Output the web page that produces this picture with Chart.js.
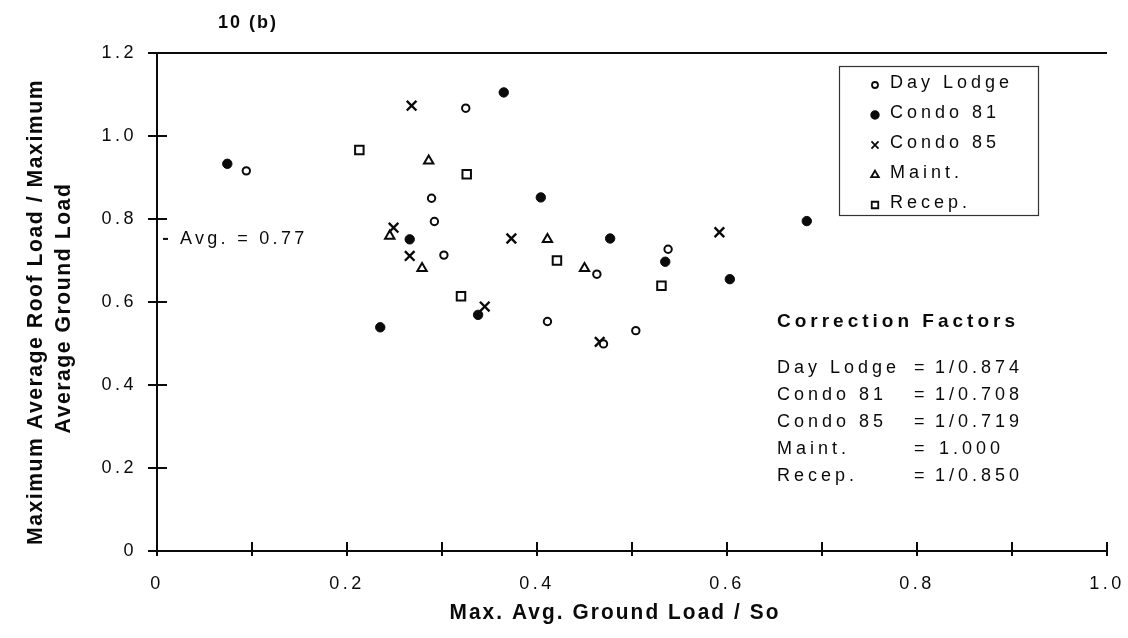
<!DOCTYPE html>
<html><head><meta charset="utf-8">
<script src="https://cdn.jsdelivr.net/npm/chart.js@4.4.0/dist/chart.umd.min.js"></script>
<style>html,body{margin:0;padding:0;background:#fff;}#wrap{width:1128px;height:638px;}</style>
</head><body><div id="wrap"><canvas id="c" width="1128" height="638"></canvas></div>
<script>
// ---- data ----
const seriesNames = ['Day Lodge', 'Condo 81', 'Condo 85', 'Maint.', 'Recep.'];
const dayLodgeX = [0.094, 0.325, 0.289, 0.292, 0.302, 0.538, 0.463, 0.411, 0.504, 0.470];
const dayLodgeY = [0.916, 1.067, 0.850, 0.794, 0.713, 0.727, 0.667, 0.553, 0.531, 0.499];
const condo81X = [0.074, 0.365, 0.404, 0.266, 0.477, 0.535, 0.603, 0.684, 0.338, 0.235];
const condo81Y = [0.933, 1.105, 0.852, 0.751, 0.753, 0.697, 0.655, 0.795, 0.569, 0.539];
const condo85X = [0.268, 0.249, 0.266, 0.373, 0.592, 0.345, 0.466];
const condo85Y = [1.073, 0.779, 0.711, 0.753, 0.768, 0.589, 0.504];
const maintX = [0.286, 0.245, 0.279, 0.411, 0.450];
const maintY = [0.940, 0.759, 0.681, 0.751, 0.681];
const recepX = [0.213, 0.326, 0.320, 0.421, 0.531];
const recepY = [0.966, 0.908, 0.614, 0.700, 0.639];
const corrNames = ['Day Lodge', 'Condo 81', 'Condo 85', 'Maint.', 'Recep.'];
const corrValues = ['1/0.874', '1/0.708', '1/0.719', '1.000', '1/0.850'];
const avgText = 'Avg. = 0.77';
const avgMarkY = 0.752;
const chartTitle = '10 (b)';
const xTitle = 'Max. Avg. Ground Load / So';
const yTitleLines = ['Maximum Average Roof Load / Maximum', 'Average Ground Load'];
const corrTitle = 'Correction Factors';

// ---- styling ----
const INK = '#0a0a0a';
const REG = "'Liberation Sans', Arial, sans-serif";
const styles = [
  { pointStyle: 'circle', radius: 3.7, bg: '#fff', bw: 2 },
  { pointStyle: 'circle', radius: 4.7, bg: INK, bw: 1 },
  { pointStyle: 'crossRot', radius: 6.8, bg: INK, bw: 2.4 },
  { pointStyle: 'triangle', radius: 5.4, bg: '#fff', bw: 2 },
  { pointStyle: 'rect', radius: 6, bg: '#fff', bw: 2 }
];
const xs = [dayLodgeX, condo81X, condo85X, maintX, recepX];
const ys = [dayLodgeY, condo81Y, condo85Y, maintY, recepY];

const datasets = seriesNames.map((name, i) => ({
  label: name,
  data: xs[i].map((x, j) => ({ x: x, y: ys[i][j] })),
  pointStyle: styles[i].pointStyle,
  pointRadius: styles[i].radius,
  pointHoverRadius: styles[i].radius,
  pointBackgroundColor: styles[i].bg,
  pointBorderColor: INK,
  pointBorderWidth: styles[i].bw,
  showLine: false
}));

function txt(ctx, s, x, y, font, align, spacing) {
  ctx.save();
  ctx.font = font;
  ctx.letterSpacing = spacing + 'px';
  ctx.textAlign = align;
  ctx.textBaseline = 'middle';
  ctx.fillStyle = INK;
  ctx.fillText(s, x, y);
  ctx.restore();
}
// draw text centred at (cx,cy), horizontally compressed by factor k
function condensed(ctx, s, cx, cy, font, spacing, k) {
  ctx.save();
  ctx.translate(cx, cy);
  ctx.scale(k, 1);
  txt(ctx, s, 0, 0, font, 'center', spacing);
  ctx.restore();
}
function measure(ctx, s, font, spacing) {
  ctx.save(); ctx.font = font; ctx.letterSpacing = spacing + 'px';
  const w = ctx.measureText(s).width; ctx.restore(); return w;
}

const spacingPlugin = {
  id: 'spacing',
  beforeUpdate(c) { c.ctx.letterSpacing = '3.5px'; },
  beforeLayout(c) { c.ctx.letterSpacing = '3.5px'; },
  beforeDraw(c) { c.ctx.letterSpacing = '3.5px'; }
};

const decor = {
  id: 'decor',
  afterDraw(chart) {
    const ctx = chart.ctx;
    const a = chart.chartArea;
    const sx = chart.scales.x, sy = chart.scales.y;
    ctx.save();
    ctx.strokeStyle = INK;
    ctx.lineWidth = 2;
    ctx.beginPath(); ctx.moveTo(a.left, a.top); ctx.lineTo(a.right, a.top); ctx.stroke();
    sy.ticks.forEach(t => {
      const p = sy.getPixelForValue(t.value);
      ctx.beginPath(); ctx.moveTo(a.left - 9, p); ctx.lineTo(a.left + 10, p); ctx.stroke();
    });
    sx.ticks.forEach(t => {
      const p = sx.getPixelForValue(t.value);
      ctx.beginPath(); ctx.moveTo(p, a.bottom - 9); ctx.lineTo(p, a.bottom + 5); ctx.stroke();
    });
    const ay = sy.getPixelForValue(avgMarkY);
    ctx.beginPath(); ctx.moveTo(a.left + 6, ay); ctx.lineTo(a.left + 11, ay); ctx.stroke();
    ctx.restore();
    txt(ctx, avgText, a.left + 23, ay, '18px ' + REG, 'left', 3.3);

    // chart title
    txt(ctx, chartTitle, 248, 23, 'bold 18px ' + REG, 'center', 2);

    // axis titles: bold, condensed
    const tf = 'bold 22px ' + REG;
    const xw = measure(ctx, xTitle, tf, 2.2);
    condensed(ctx, xTitle, 615, 613, tf, 2.2, 331 / xw);
    const yw = measure(ctx, yTitleLines[0], tf, 1.6);
    const ky = 466 / yw;
    ctx.save();
    ctx.translate(36, 312); ctx.rotate(-Math.PI / 2);
    condensed(ctx, yTitleLines[0], 0, 0, tf, 1.6, ky);
    ctx.restore();
    ctx.save();
    ctx.translate(64, 308); ctx.rotate(-Math.PI / 2);
    condensed(ctx, yTitleLines[1], 0, 0, tf, 1.6, ky);
    ctx.restore();

    // legend box
    ctx.save();
    ctx.strokeStyle = '#333'; ctx.lineWidth = 1.2;
    ctx.strokeRect(839.5, 66.5, 199, 149);
    ctx.restore();
    const legendSizes = [3, 3.8, 5, 4.4, 4.6];
    seriesNames.forEach((name, i) => {
      const ly = 83 + i * 30;
      ctx.save();
      ctx.fillStyle = styles[i].bg; ctx.strokeStyle = INK; ctx.lineWidth = 1.8;
      Chart.helpers.drawPoint(ctx, { pointStyle: styles[i].pointStyle, radius: legendSizes[i], borderWidth: 1.8, rotation: 0 }, 875, ly + 2);
      ctx.restore();
      txt(ctx, name, 890, ly, '18px ' + REG, 'left', 4);
    });

    // correction factors
    txt(ctx, corrTitle, 777, 322, 'bold 19px ' + REG, 'left', 4);
    corrNames.forEach((n, i) => {
      const ly = 368 + i * 27;
      txt(ctx, n, 777, ly, '18px ' + REG, 'left', 4);
      txt(ctx, '=', 914, ly, '18px ' + REG, 'left', 4);
      txt(ctx, corrValues[i], i === 3 ? 939 : 935, ly, '18px ' + REG, 'left', 4);
    });
  }
};

new Chart(document.getElementById('c'), {
  type: 'scatter',
  data: { datasets: datasets },
  options: {
    responsive: false,
    animation: false,
    devicePixelRatio: 1,
    layout: { padding: { top: 53, right: 0, left: 0, bottom: 0 } },
    plugins: { legend: { display: false }, tooltip: { enabled: false } },
    scales: {
      x: {
        type: 'linear', min: 0, max: 1,
        afterFit(s) { s.height = 87; s.paddingLeft = 0; s.paddingRight = 21; },
        border: { display: true, color: INK, width: 2 },
        grid: { drawOnChartArea: false, drawTicks: false },
        ticks: {
          stepSize: 0.1, autoSkip: false, maxRotation: 0, padding: 22,
          color: INK, font: { size: 18, family: REG },
          callback: v => { const k = Math.round(v * 10); return k % 2 ? '' : (k === 0 ? '0' : (k / 10).toFixed(1)); }
        }
      },
      y: {
        type: 'linear', min: 0, max: 1.2,
        afterFit(s) { s.width = 157; s.paddingTop = 0; s.paddingBottom = 0; },
        border: { display: true, color: INK, width: 2 },
        grid: { drawOnChartArea: false, drawTicks: false },
        ticks: {
          stepSize: 0.2, autoSkip: false, padding: 20,
          color: INK, font: { size: 18, family: REG },
          callback: v => { const k = Math.round(v * 10); return k === 0 ? '0' : (k / 10).toFixed(1); }
        }
      }
    }
  },
  plugins: [spacingPlugin, decor]
});
</script>
</body></html>
